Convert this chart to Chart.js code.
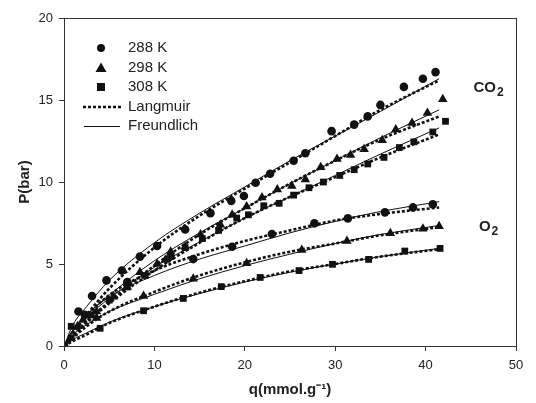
<!DOCTYPE html>
<html>
<head>
<meta charset="utf-8">
<script src="https://cdn.jsdelivr.net/npm/chart.js@4.4.1/dist/chart.umd.min.js"></script>
<style>
  html, body { margin: 0; padding: 0; background: #fff; }
  #wrap { width: 536px; height: 403px; }
</style>
</head>
<body>
<div id="wrap"><canvas id="toolChart" width="536" height="403"></canvas></div>
<script>
const qCO2_288 = [0, 1.6, 3.1, 4.7, 6.4, 8.4, 10.3, 13.4, 16.2, 18.5, 19.9, 21.2, 22.8, 25.4, 26.7, 29.6, 32.1, 33.6, 35.0, 37.6, 39.7, 41.1];
const pCO2_288 = [0, 2.1, 3.05, 4.0, 4.6, 5.45, 6.1, 7.1, 8.1, 8.85, 9.15, 9.95, 10.5, 11.3, 11.75, 13.1, 13.5, 14.0, 14.7, 15.8, 16.3, 16.7];
const qCO2_298 = [0, 2.1, 3.6, 5.5, 7.0, 8.4, 10.3, 11.2, 11.8, 13.4, 15.1, 17.3, 18.6, 20.2, 21.9, 23.6, 25.2, 26.7, 28.4, 30.2, 31.7, 33.2, 35.2, 36.7, 38.5, 40.2, 41.9];
const pCO2_298 = [0, 1.6, 2.1, 3.0, 3.6, 4.5, 5.0, 5.25, 5.75, 6.05, 6.8, 7.4, 8.0, 8.5, 9.05, 9.55, 9.75, 10.15, 10.9, 11.4, 11.65, 12.0, 12.55, 13.2, 13.6, 14.2, 15.05];
const qCO2_308 = [0, 0.8, 3.0, 5.0, 7.0, 9.0, 11.8, 13.4, 15.3, 17.1, 19.1, 20.4, 22.1, 23.8, 25.4, 27.1, 28.7, 30.5, 32.1, 33.6, 35.4, 37.1, 38.7, 40.8, 42.2];
const pCO2_308 = [0, 1.2, 1.9, 2.8, 3.6, 4.3, 5.45, 6.0, 6.55, 7.05, 7.8, 8.0, 8.55, 8.7, 9.2, 9.65, 10.0, 10.4, 10.75, 11.1, 11.5, 12.1, 12.45, 13.05, 13.7];
const qO2_288 = [0, 2.3, 7.0, 14.3, 18.6, 23.0, 27.7, 31.4, 35.5, 38.6, 40.8];
const pO2_288 = [0, 1.9, 3.9, 5.3, 6.05, 6.83, 7.48, 7.78, 8.15, 8.45, 8.64];
const qO2_298 = [0, 1.5, 3.6, 8.8, 14.3, 20.2, 26.3, 31.3, 36.1, 39.7, 41.5];
const pO2_298 = [0, 1.2, 1.7, 3.05, 4.1, 5.05, 5.85, 6.4, 6.87, 7.15, 7.3];
const qO2_308 = [0, 0.8, 4.0, 8.8, 13.2, 17.4, 21.7, 26.0, 29.7, 33.7, 37.7, 41.6];
const pO2_308 = [0, 0.5, 1.08, 2.15, 2.9, 3.62, 4.18, 4.6, 4.98, 5.28, 5.79, 5.95];

// fitted curves at these q values
const qFit = [0, 1, 2.5, 5, 10, 15, 20, 25, 30, 35, 41.5];
const langCO2_288 = [0, 0.8, 1.9, 3.5, 6.0, 7.95, 9.6, 11.2, 12.8, 14.4, 16.2];
const freuCO2_288 = [0, 1.3, 2.4, 4.0, 6.3, 8.1, 9.7, 11.3, 12.8, 14.3, 16.3];
const langCO2_298 = [0, 0.6, 1.5, 2.7, 4.9, 6.8, 8.4, 9.9, 11.3, 12.6, 14.0];
const freuCO2_298 = [0, 1.0, 1.9, 3.1, 5.2, 6.9, 8.4, 9.9, 11.3, 12.7, 14.4];
const langCO2_308 = [0, 0.55, 1.4, 2.6, 4.6, 6.3, 7.8, 9.1, 10.3, 11.5, 12.9];
const freuCO2_308 = [0, 0.9, 1.75, 2.9, 4.8, 6.35, 7.8, 9.1, 10.4, 11.7, 13.3];
const langO2_288 = [0, 0.75, 1.8, 3.1, 4.6, 5.6, 6.4, 7.05, 7.65, 8.05, 8.45];
const freuO2_288 = [0, 1.0, 1.9, 3.0, 4.3, 5.3, 6.1, 6.9, 7.6, 8.2, 8.8];
const langO2_298 = [0, 0.5, 1.2, 2.1, 3.3, 4.3, 5.1, 5.75, 6.25, 6.75, 7.25];
const freuO2_298 = [0, 0.7, 1.3, 2.1, 3.15, 4.1, 4.9, 5.6, 6.25, 6.8, 7.35];
const langO2_308 = [0, 0.3, 0.7, 1.4, 2.4, 3.25, 3.95, 4.55, 5.0, 5.45, 5.9];
const freuO2_308 = [0, 0.4, 0.8, 1.45, 2.4, 3.2, 3.9, 4.5, 5.0, 5.45, 5.95];

const xTicks = [0, 10, 20, 30, 40, 50];
const yTicks = [0, 5, 10, 15, 20];
const legendLabels = ['288 K', '298 K', '308 K', 'Langmuir', 'Freundlich'];
const gasLabels = [{ text: 'CO', sub: '2', q: 45.3, p: 15.5 }, { text: 'O', sub: '2', q: 45.9, p: 7.0 }];

const INK = '#111';
const FONT = '"Liberation Sans", Arial, sans-serif';

function pts(qs, ps) {
  return qs.map((q, i) => ({ x: q, y: ps[i] }));
}

function markerSet(qs, ps, style, radius) {
  return {
    data: pts(qs, ps),
    showLine: false,
    pointStyle: style,
    pointRadius: radius,
    backgroundColor: INK,
    borderColor: INK,
    borderWidth: 0
  };
}

function fitSet(qs, ps, dotted) {
  return {
    data: pts(qs, ps),
    showLine: true,
    pointRadius: 0,
    borderColor: INK,
    borderWidth: dotted ? 2.6 : 1,
    borderDash: dotted ? [3, 2] : [],
    cubicInterpolationMode: 'monotone',
    fill: false
  };
}

const datasets = [
  markerSet(qCO2_288, pCO2_288, 'circle', 4.3),
  markerSet(qCO2_298, pCO2_298, 'triangle', 5.5),
  markerSet(qCO2_308, pCO2_308, 'rect', 4.8),
  markerSet(qO2_288, pO2_288, 'circle', 4.3),
  markerSet(qO2_298, pO2_298, 'triangle', 5.5),
  markerSet(qO2_308, pO2_308, 'rect', 4.8),
  fitSet(qFit, freuCO2_288, false),
  fitSet(qFit, freuCO2_298, false),
  fitSet(qFit, freuCO2_308, false),
  fitSet(qFit, freuO2_288, false),
  fitSet(qFit, freuO2_298, false),
  fitSet(qFit, freuO2_308, false),
  fitSet(qFit, langCO2_288, true),
  fitSet(qFit, langCO2_298, true),
  fitSet(qFit, langCO2_308, true),
  fitSet(qFit, langO2_288, true),
  fitSet(qFit, langO2_298, true),
  fitSet(qFit, langO2_308, true)
];

// frame, legend box and gas labels
const decorPlugin = {
  id: 'decor',
  afterDraw(chart) {
    const c = chart.ctx;
    const a = chart.chartArea;
    c.save();
    c.strokeStyle = '#333';
    c.lineWidth = 1;
    c.strokeRect(a.left + 0.5, a.top + 0.5, a.right - a.left, a.bottom - a.top);

    // legend
    const mx = 101, tx = 128;
    const rows = [48, 68, 87, 107, 126];
    c.fillStyle = INK;
    c.beginPath(); c.arc(mx, rows[0], 4, 0, Math.PI * 2); c.fill();
    c.beginPath(); c.moveTo(mx, rows[1] - 5.5); c.lineTo(mx + 5.5, rows[1] + 4); c.lineTo(mx - 5.5, rows[1] + 4); c.closePath(); c.fill();
    c.fillRect(mx - 4, rows[2] - 4, 8, 8);
    c.strokeStyle = INK;
    c.lineWidth = 2.6;
    c.setLineDash([3, 2]);
    c.beginPath(); c.moveTo(83, rows[3]); c.lineTo(122, rows[3]); c.stroke();
    c.setLineDash([]);
    c.lineWidth = 1;
    c.beginPath(); c.moveTo(84, rows[4] + 0.5); c.lineTo(120, rows[4] + 0.5); c.stroke();
    c.font = '15px ' + FONT;
    c.textBaseline = 'middle';
    c.fillStyle = '#222';
    legendLabels.forEach((t, i) => c.fillText(t, tx, rows[i]));

    // gas labels
    const xs = chart.scales.x, ys = chart.scales.y;
    gasLabels.forEach(g => {
      const px = xs.getPixelForValue(g.q), py = ys.getPixelForValue(g.p);
      c.font = 'bold 15px ' + FONT;
      c.textBaseline = 'alphabetic';
      c.fillText(g.text, px, py);
      const w = c.measureText(g.text).width;
      c.font = 'bold 12px ' + FONT;
      c.fillText(g.sub, px + w + 1, py + 4);
    });
    c.restore();
  }
};

new Chart(document.getElementById('toolChart'), {
  type: 'scatter',
  data: { datasets: datasets },
  options: {
    responsive: false,
    animation: false,
    layout: { padding: { top: 18, right: 20, left: 12, bottom: 0 } },
    plugins: { legend: { display: false }, tooltip: { enabled: false } },
    scales: {
      x: {
        type: 'linear',
        min: 0, max: 50,
        afterBuildTicks: s => { s.ticks = xTicks.map(v => ({ value: v })); },
        afterFit: s => { s.height = 57; },
        grid: { display: true, drawOnChartArea: false, drawTicks: true, tickLength: 5, color: '#333' },
        border: { display: true, color: '#333' },
        ticks: { color: '#222', padding: 7, font: { family: FONT, size: 13 } },
        title: {
          display: true,
          text: 'q(mmol.g⁻¹)',
          color: '#222',
          padding: { top: 10 },
          font: { family: FONT, size: 15, weight: 'bold' }
        }
      },
      y: {
        type: 'linear',
        min: 0, max: 20,
        afterBuildTicks: s => { s.ticks = yTicks.map(v => ({ value: v })); },
        afterFit: s => { s.width = 52; },
        grid: { display: true, drawOnChartArea: false, drawTicks: true, tickLength: 5, color: '#333' },
        border: { display: true, color: '#333' },
        ticks: { color: '#222', padding: 6, font: { family: FONT, size: 13 } },
        title: {
          display: true,
          text: 'P(bar)',
          color: '#222',
          padding: { bottom: 0 },
          font: { family: FONT, size: 15, weight: 'bold' }
        }
      }
    }
  },
  plugins: [decorPlugin]
});
</script>
</body>
</html>
